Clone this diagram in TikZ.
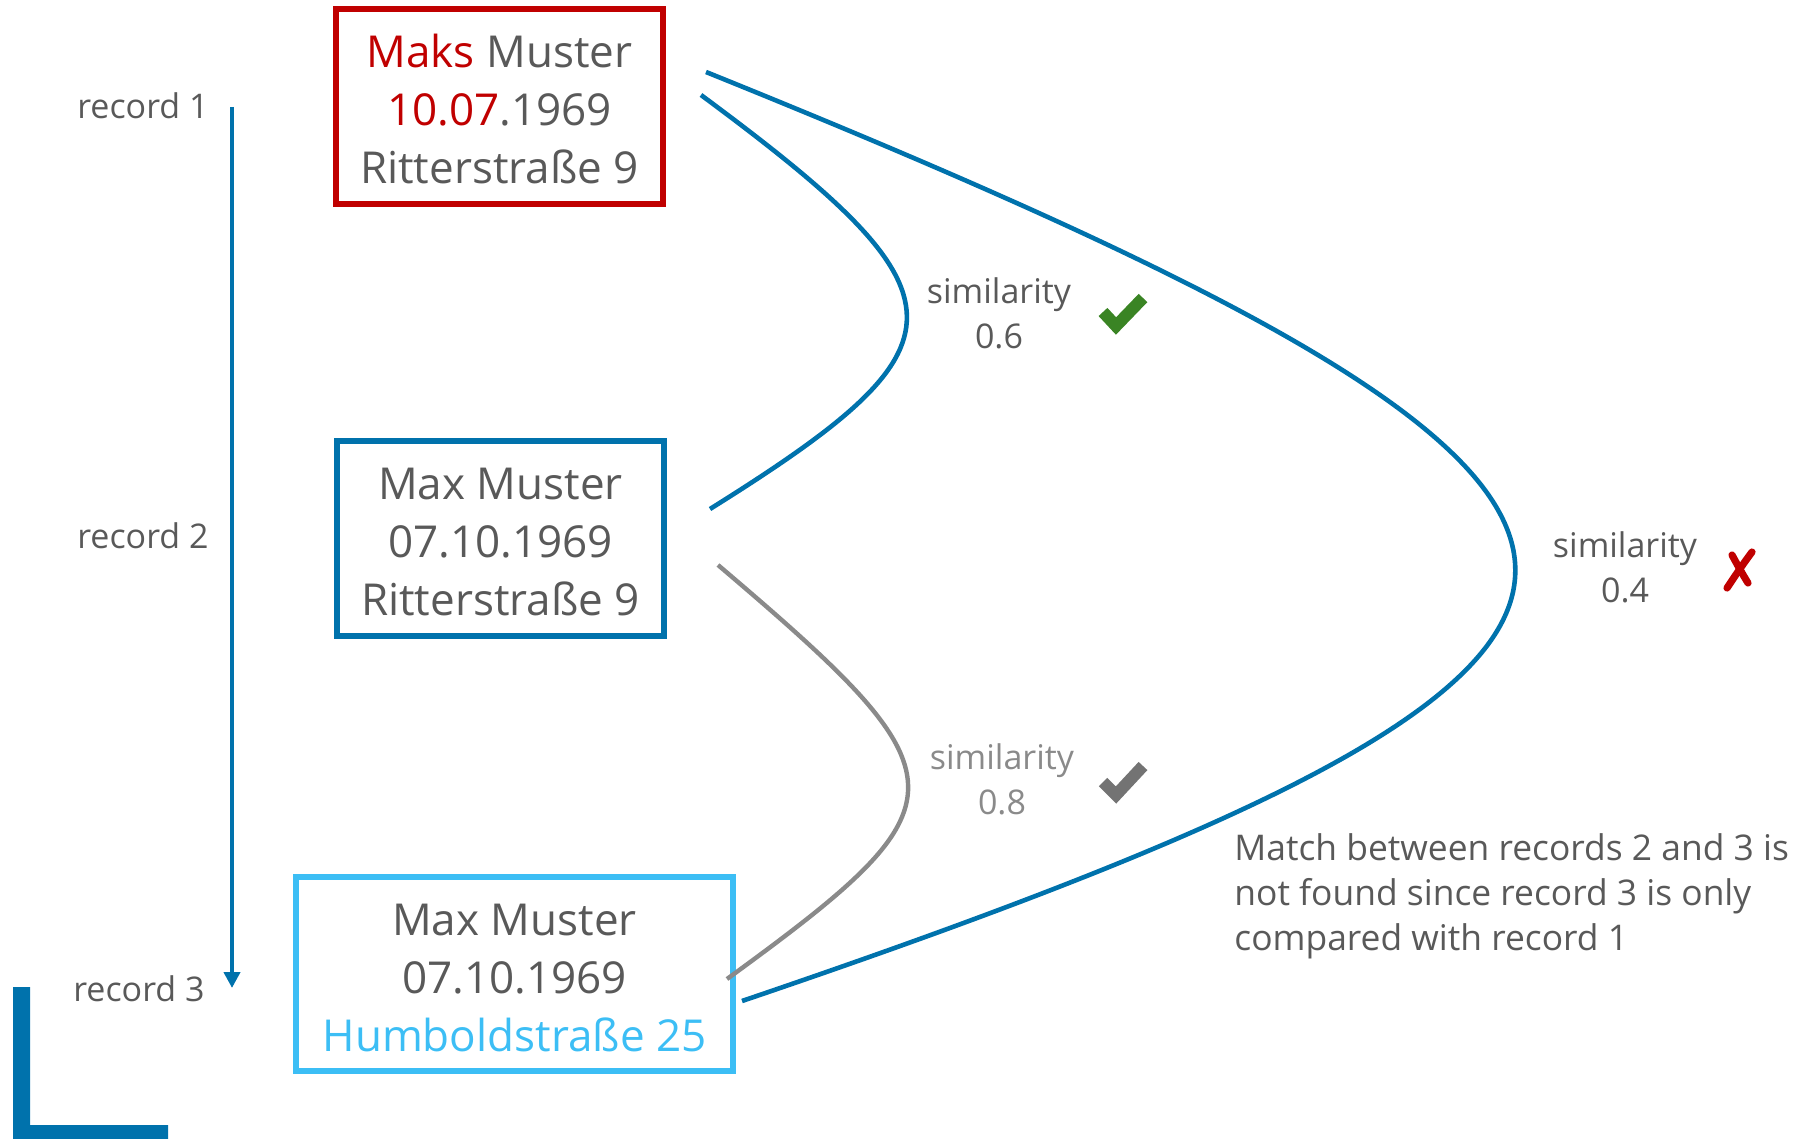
\documentclass[tikz,border=0pt]{standalone}
\usepackage{fontspec}
\setmainfont{Open Sans}
\usetikzlibrary{arrows.meta}
\definecolor{dblue}{HTML}{0072AC}
\definecolor{lblue}{HTML}{3CBEF5}
\definecolor{dred}{HTML}{C00000}
\definecolor{txtgray}{HTML}{595959}
\definecolor{lgray}{HTML}{8A8A8A}
\definecolor{okgreen}{HTML}{3A8424}
\definecolor{okgray}{HTML}{737373}
\newcommand{\topstrut}{\rule{0pt}{19.3pt}}
\begin{document}
\begin{tikzpicture}[x=0.5pt,y=-0.5pt,
  recbox/.style={draw, line width=2.9pt, inner sep=0pt, align=center,
    text=txtgray, font=\fontsize{22}{29}\selectfont},
  reclabel/.style={anchor=east, text=txtgray, inner sep=0pt,
    font=\fontsize{17}{22.5}\selectfont},
  simlabel/.style={align=center, text=txtgray, inner sep=0pt,
    font=\fontsize{17}{22.5}\selectfont},
  link/.style={dblue, line width=2.3pt},
  tick/.style={line width=6pt, miter limit=10}
]
\useasboundingbox (0,0) rectangle (1804,1139);

% record boxes
\node[recbox, draw=dred, minimum width=163.5pt, minimum height=97.5pt] (b1) at (499.5,106.5)
  {\topstrut\textcolor{dred}{Maks} Muster\\\textcolor{dred}{10.07}.1969\\Ritterstraße 9};
\node[recbox, draw=dblue, minimum width=163.5pt, minimum height=97.5pt] (b2) at (500.5,538.5)
  {\topstrut Max Muster\\07.10.1969\\Ritterstraße 9};
\node[recbox, draw=lblue, minimum width=218.5pt, minimum height=97pt] (b3) at (514.5,974)
  {\topstrut Max Muster\\07.10.1969\\\textcolor{lblue}{Humboldstraße 25}};

% record labels and processing order
\node[reclabel] (r1) at (209,106) {record 1};
\node[reclabel] (r2) at (209,536) {record 2};
\node[reclabel] (r3) at (205,989) {record 3};
\coordinate (ordtop) at (232,107);
\coordinate (ordbot) at (232,988);
\draw[dblue, line width=2pt, -{Triangle[width=8pt,length=8pt]}] (ordtop) -- (ordbot);

% corner bracket
\fill[dblue] (13,987) -- (30,987) -- (30,1125) -- (168,1125) -- (168,1139) -- (13,1139) -- cycle;

% comparison links
\coordinate (a1) at (701,95);
\coordinate (a2) at (710,509);
\coordinate (c1) at (706,72);
\coordinate (c3) at (742,1001);
\coordinate (g2) at (718,565);
\coordinate (g3) at (727,979);
\draw[link] (a1) .. controls (974,297) and (974,344) .. (a2);
\draw[link] (c1) .. controls (1779,505) and (1779,649) .. (c3);
\draw[lgray, line width=2.2pt] (g2) .. controls (970,779) and (970,802) .. (g3);

% similarity labels
\node[simlabel] (s12) at (999,313) {similarity\\0.6};
\node[simlabel, text=lgray] (s23) at (1002,779) {similarity\\0.8};
\node[simlabel] (s13) at (1625,567) {similarity\\0.4};

% verdict marks
\draw[tick, okgreen] (1103,312) -- (1116,326) -- (1143,298);
\draw[tick, okgray] (1103,782) -- (1116,795) -- (1143,766);
\draw[dred, line width=3.6pt, line cap=round] (1732,555) .. controls (1738,566) and (1743,575) .. (1748,583);
\draw[dred, line width=3.6pt, line cap=round] (1752,552) .. controls (1743,564) and (1735,576) .. (1727,588);

% note
\node[simlabel, align=left, anchor=west, font=\fontsize{17.7}{22.5}\selectfont] (note) at (1234,896)
  {Match between records 2 and 3 is\\not found since record 3 is only\\compared with record 1};
\end{tikzpicture}
\end{document}
